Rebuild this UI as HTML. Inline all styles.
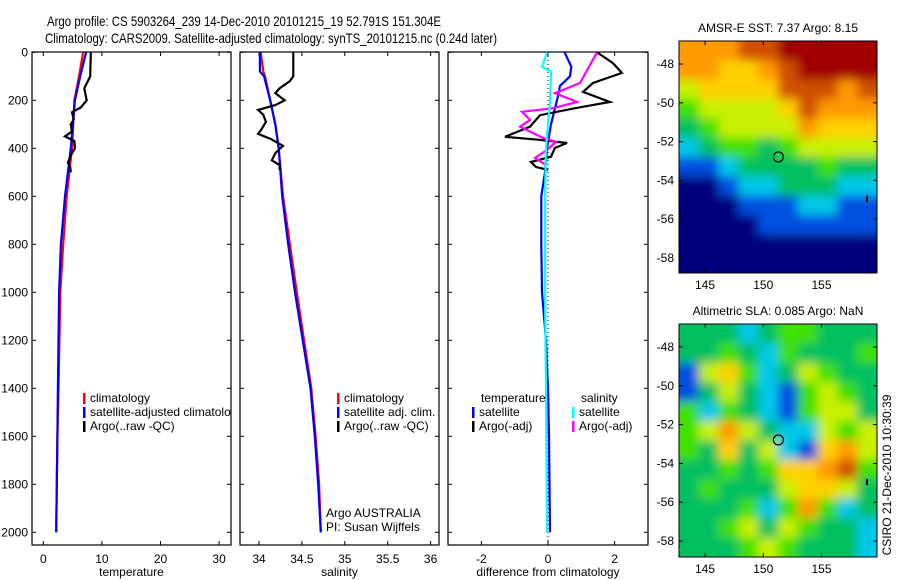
<!DOCTYPE html>
<html><head><meta charset="utf-8"><style>
html,body{margin:0;padding:0;background:#fff;}
svg{display:block;font-family:"Liberation Sans",sans-serif;}
</style></head><body>
<svg id="fig" width="900" height="580" viewBox="0 0 900 580" xmlns="http://www.w3.org/2000/svg">
<defs>
<clipPath id="c1"><rect x="32" y="52" width="199" height="493"/></clipPath>
<clipPath id="c2"><rect x="240" y="52" width="199" height="493"/></clipPath>
<clipPath id="c3"><rect x="448" y="52" width="200" height="493"/></clipPath>
<clipPath id="cm1"><rect x="679" y="41" width="198" height="232"/></clipPath>
<clipPath id="cm2"><rect x="679" y="324" width="198" height="233"/></clipPath>
<filter id="blur" x="-5%" y="-5%" width="110%" height="110%"><feGaussianBlur stdDeviation="5"/></filter>
</defs>
<text x="47" y="26" font-size="14" textLength="394" lengthAdjust="spacingAndGlyphs">Argo profile: CS 5903264_239 14-Dec-2010 20101215_19 52.791S 151.304E</text>
<text x="45" y="43" font-size="14" textLength="452" lengthAdjust="spacingAndGlyphs">Climatology: CARS2009. Satellite-adjusted climatology: synTS_20101215.nc (0.24d later)</text>
<g id="layer"></g>
</svg>
<script>
// ---- profile data ----
const tDepth = [0,100,200,400,600,800,1000,1400,1600,1800,2000];
const tClim  = [6.8,6.1,5.3,4.9,4.0,3.4,2.9,2.6,2.4,2.3,2.2];
const tSat   = [7.3,6.3,5.4,4.7,3.7,3.0,2.7,2.5,2.4,2.3,2.2];
const tArgoDepth = [0,100,150,200,230,250,280,300,330,350,370,400,430,460,480,500];
const tArgo  = [8.1,8.0,7.0,7.4,6.4,4.9,5.2,4.7,4.9,3.7,5.3,5.4,4.7,4.2,4.6,4.7];

const sDepth = [0,80,100,200,300,400,600,800,1000,1400,1600,1800,2000];
const sClim  = [34.02,34.05,34.07,34.13,34.19,34.23,34.28,34.36,34.44,34.61,34.66,34.70,34.72];
const sSat   = [34.01,34.01,34.06,34.13,34.19,34.23,34.27,34.34,34.42,34.60,34.65,34.69,34.72];
const sArgoDepth = [0,100,120,150,170,200,220,240,260,290,320,340,360,390,420,450,470,490];
const sArgo  = [34.40,34.40,34.36,34.24,34.19,34.30,34.19,33.99,34.05,34.08,34.03,33.99,34.13,34.28,34.19,34.15,34.24,34.24];

const dTSatDepth = [0,60,100,140,200,300,400,500,600,800,1000,1200,1400,1600,2000];
const dTSat = [0.5,0.7,0.66,0.36,0.27,0.09,-0.03,-0.09,-0.2,-0.2,-0.18,-0.06,0,0.03,0.06];
const dSSatDepth = [0,60,80,200,400,600,1000,1400,2000];
const dSSat = [-0.03,-0.18,0.09,0.06,-0.06,-0.09,-0.09,-0.06,-0.03];
const dTArgoDepth = [0,45,86,128,165,207,233,262,310,352,365,378,398,435,457,478,490];
const dTArgo = [1.47,1.95,2.22,1.35,1.05,1.86,0.81,-0.24,-0.54,-1.29,-0.24,0.57,0.21,0.09,-0.51,-0.36,0];
const dSArgoDepth = [0,128,170,207,233,248,282,310,357,373,407,440,470];
const dSArgo = [1.47,0.96,0.21,0.87,0.15,-0.78,-0.54,-0.84,-0.15,0.24,-0.03,-0.39,-0.06];

const depthTicks = [0,200,400,600,800,1000,1200,1400,1600,1800,2000];
const tTicks = [0,10,20,30];
const sTicks = [34,34.5,35,35.5,36];
const dTicks = [-2,0,2];

// ---- map data (colour index 0..9, rows north->south, cols west->east) ----
const sstGrid = [
"7778899999","7766789999","5666688878","4555568777","3455557666","2344345555",
"1123333433","0012233322","0001112211","0000111111","0000000000","0000000000"];
const slaGrid = [
"3332344333","3343243334","1564235433","1353214543","4243214553","4575322545",
"4363521675","3343466784","3433356653","3334247423","3345354332","3334543332"];
const lonTicks = [145,150,155];
const latTicks = [-48,-50,-52,-54,-56,-58];
const jet = ["#00007f","#0050e0","#00c8e8","#00c060","#40e000","#c8f000","#ffd000","#ff9a00","#d05000","#a00000"];

const NS="http://www.w3.org/2000/svg";
const layer=document.getElementById('layer');
function el(tag,attrs,parent){const e=document.createElementNS(NS,tag);for(const k in attrs)e.setAttribute(k,attrs[k]);(parent||layer).appendChild(e);return e;}
function txt(x,y,s,size,anchor,parent){const t=el('text',{x:x,y:y,'font-size':size||12,'text-anchor':anchor||'start'},parent);t.textContent=s;return t;}

const yD = d => 52.3 + d*0.24;
const xT = v => 43.3 + v*5.86;
const xS = v => 259 + (v-34)*85.8;
const xDf = v => 548 + v*33.3;

function panel(x0,x1,name,xf,ticks,label,fmt){
  const g=el('g',{});
  
  
  el('rect',{x:x0,y:52,width:x1-x0,height:493,fill:'none',stroke:'#000','stroke-width':1.2},g);
  ticks.forEach(v=>{const x=xf(v);
    el('line',{x1:x,x2:x,y1:545,y2:541,stroke:'#000'},g);
    el('line',{x1:x,x2:x,y1:52,y2:56,stroke:'#000'},g);
    const t=txt(x,563,fmt(v),12,'middle',g);
    
    
  });
  depthTicks.forEach(d=>{const y=yD(d);
    el('line',{x1:x0,x2:x0+4,y1:y,y2:y,stroke:'#000'},g);
    el('line',{x1:x1,x2:x1-4,y1:y,y2:y,stroke:'#000'},g);
  });
  const l=txt((x0+x1)/2,576,label,12,'middle',g);
  
  
  return g;
}
function line(g,clip,depths,vals,xf,color,name){
  const pts=depths.map((d,i)=>xf(vals[i]).toFixed(1)+','+yD(d).toFixed(1)).join(' ');
  const p=el('polyline',{points:pts,fill:'none',stroke:color,'stroke-width':2.2,'clip-path':'url(#'+clip+')'},g);
  
  
}
function legend(g,x,y,color,label,clip){
  el('rect',{x:x,y:y-9,width:2.5,height:11,fill:color},g);
  const t=txt(x+7,y,label,12,'start',g);
  if(clip)t.setAttribute('clip-path','url(#'+clip+')');
  
  
}

// depth axis labels
depthTicks.forEach(d=>{const t=txt(28,yD(d)+4,String(d),12,'end');
  
  });

// panel 1 temperature
const p1=panel(32,231,'temperature-panel',xT,tTicks,'temperature',v=>String(v));
line(p1,'c1',tDepth,tClim,xT,'#ff0000','temp-climatology-line');
line(p1,'c1',tDepth,tSat,xT,'#0000ff','temp-satellite-line');
line(p1,'c1',tArgoDepth,tArgo,xT,'#000','temp-argo-line');
legend(p1,83,402,'#ff0000','climatology');
legend(p1,83,416,'#0000ff','satellite-adjusted climatology','c1');
legend(p1,83,430,'#000','Argo(..raw -QC)');

// panel 2 salinity
const p2=panel(240,439,'salinity-panel',xS,sTicks,'salinity',v=>String(v));
line(p2,'c2',sDepth,sClim,xS,'#ff0000','sal-climatology-line');
line(p2,'c2',sDepth,sSat,xS,'#0000ff','sal-satellite-line');
line(p2,'c2',sArgoDepth,sArgo,xS,'#000','sal-argo-line');
legend(p2,337,402,'#ff0000','climatology');
legend(p2,337,416,'#0000ff','satellite adj. clim.');
legend(p2,337,430,'#000','Argo(..raw -QC)');
txt(326,517,'Argo AUSTRALIA',12,'start',p2);
txt(326,531,'PI: Susan Wijffels',12,'start',p2);

// panel 3 differences
const p3=panel(448,648,'difference-panel',xDf,dTicks,'difference from climatology',v=>String(v));
el('line',{x1:548,x2:548,y1:52,y2:545,stroke:'#000','stroke-dasharray':'1,3'},p3);
line(p3,'c3',dTSatDepth,dTSat,xDf,'#0000ff','diff-temp-satellite-line');
line(p3,'c3',dTArgoDepth,dTArgo,xDf,'#000','diff-temp-argo-line');
line(p3,'c3',dSArgoDepth,dSArgo,xDf,'#ff00ff','diff-sal-argo-line');
line(p3,'c3',dSSatDepth,dSSat,xDf,'#00ffff','diff-sal-satellite-line');
txt(481,402,'temperature',12,'start',p3);
txt(581,402,'salinity',12,'start',p3);
legend(p3,472,416,'#0000ff','satellite');
legend(p3,472,430,'#000','Argo(-adj)');
legend(p3,572,416,'#00ffff','satellite');
legend(p3,572,430,'#ff00ff','Argo(-adj)');

// maps
const lonX=(lon,)=>705+(lon-145)*11.65;
function map(grid,top,bottom,lat48y,lat58y,title,name,clip){
  const g=el('g',{});
  
  
  const latY=lat=>lat48y+(-48-lat)*(lat58y-lat48y)/10;
  const rows=grid.length, cols=grid[0].length;
  const W=198/cols, H=(bottom-top)/rows;
  const cg=el('g',{'clip-path':'url(#'+clip+')'},g);
  el('rect',{x:679,y:top,width:198,height:bottom-top,fill:jet[grid[rows-1][0]]},cg);
  const bg=el('g',{filter:'url(#blur)'},cg);
  for(let r=-1;r<=rows;r++)for(let c=-1;c<=cols;c++){
    const rr=Math.min(rows-1,Math.max(0,r)), cc=Math.min(cols-1,Math.max(0,c));
    const cell=el('rect',{x:679+c*W,y:top+r*H,width:W+0.6,height:H+0.6,fill:jet[+grid[rr][cc]]},bg);
    
    
  }
  el('rect',{x:679,y:top,width:198,height:bottom-top,fill:'none',stroke:'#000','stroke-width':1},g);
  lonTicks.forEach(l=>{const x=lonX(l);
    el('line',{x1:x,x2:x,y1:top,y2:top+4,stroke:'#000'},g);
    el('line',{x1:x,x2:x,y1:bottom,y2:bottom-4,stroke:'#000'},g);
    txt(x,bottom+16,String(l),12,'middle',g);});
  latTicks.forEach(l=>{const y=latY(l);
    el('line',{x1:679,x2:683,y1:y,y2:y,stroke:'#000'},g);
    el('line',{x1:877,x2:873,y1:y,y2:y,stroke:'#000'},g);
    txt(674,y+4,String(l),12,'end',g);});
  const c=el('circle',{cx:lonX(151.3),cy:latY(-52.79),r:5,fill:'none',stroke:'#000','stroke-width':1.2},g);
  
  
  el('rect',{x:866,y:latY(-54.8),width:2,height:6,fill:'#000'},g);
  const t=txt(778,top-9,title,12,'middle',g);
  
  
}
map(sstGrid,41,273,64,258,'AMSR-E SST: 7.37 Argo: 8.15','sst-map','cm1');
map(slaGrid,324,557,347,541,'Altimetric SLA: 0.085 Argo: NaN','sla-map','cm2');
const st=txt(0,0,'CSIRO 21-Dec-2010 10:30:39',12,'middle');
st.setAttribute('transform','translate(891,475) rotate(-90)');


</script>
</body></html>
